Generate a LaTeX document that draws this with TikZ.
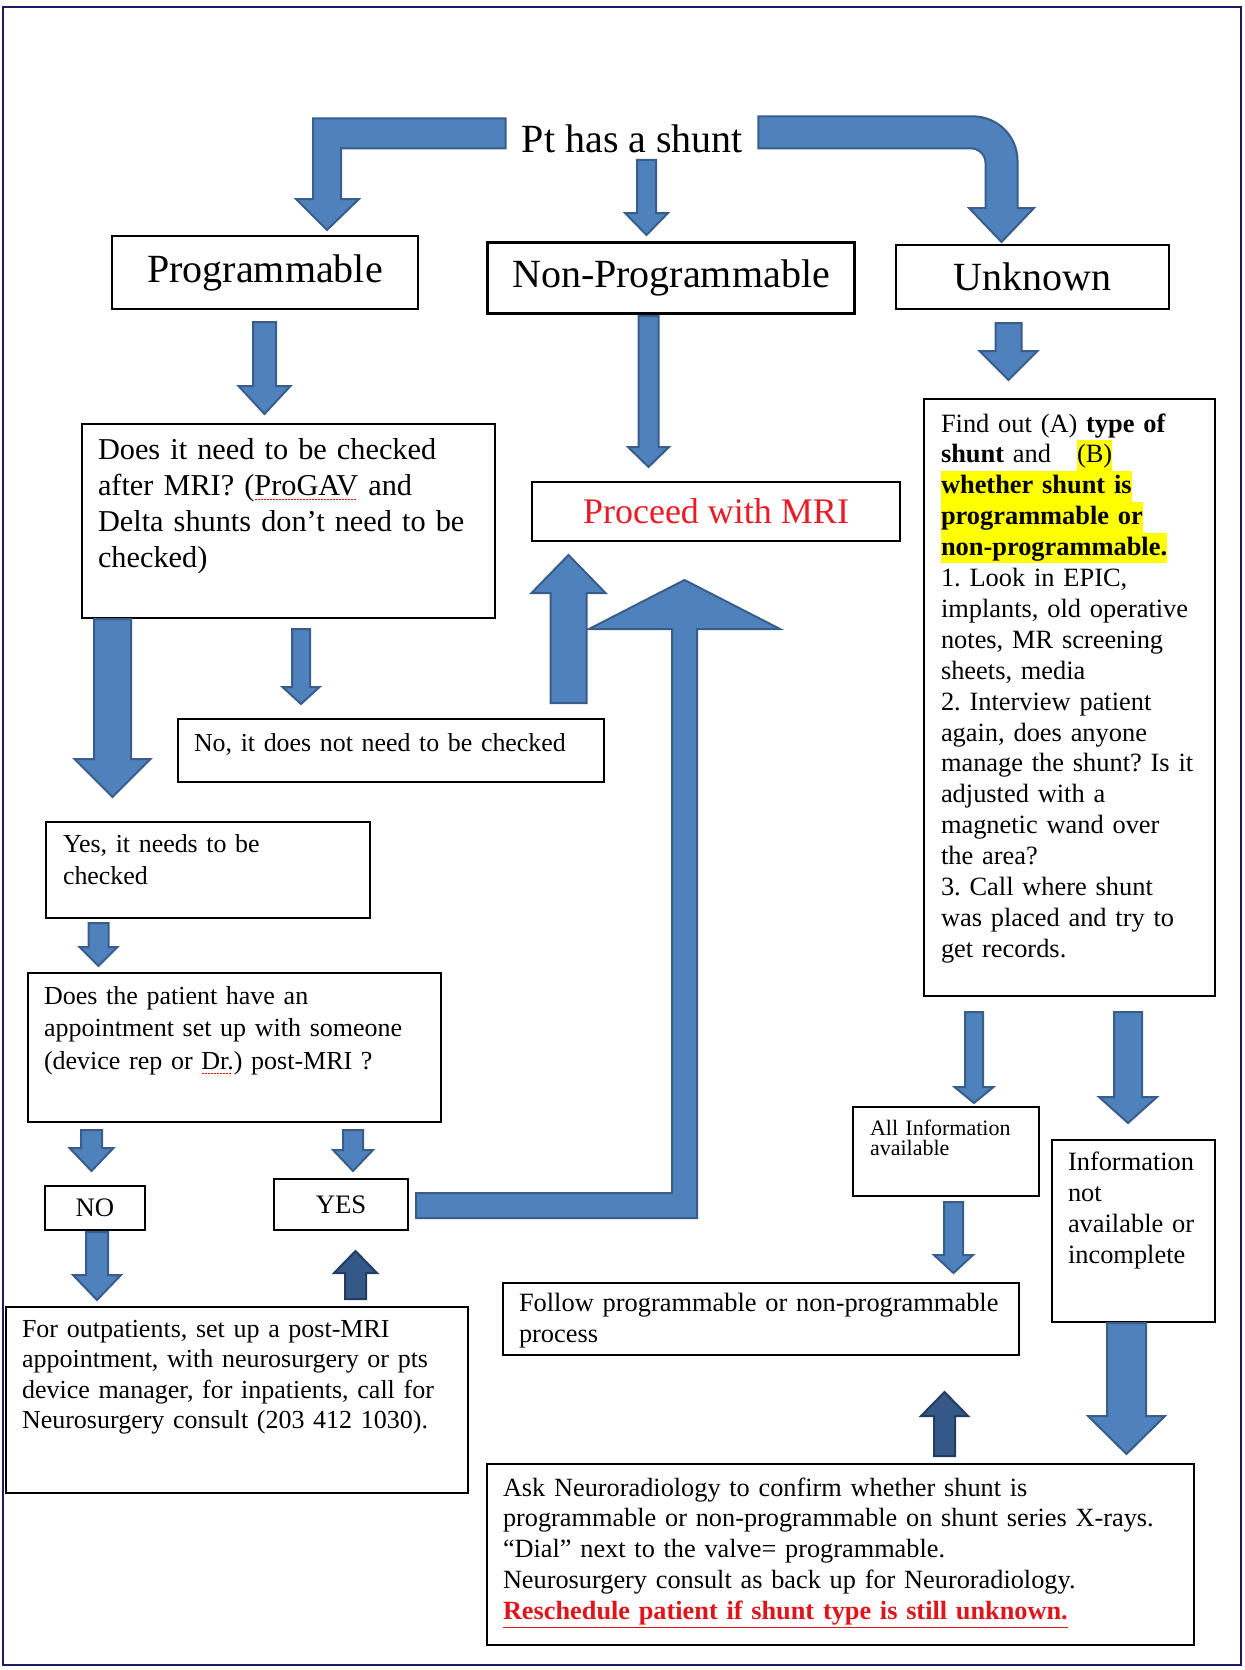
\documentclass[tikz,border=0pt]{standalone}
\usepackage{fontspec}
\setmainfont{Liberation Serif}
\usetikzlibrary{calc}
\frenchspacing

\definecolor{framenavy}{RGB}{28,28,100}
\definecolor{arrfill}{RGB}{79,129,189}
\definecolor{arredge}{RGB}{56,93,138}
\definecolor{arrdarkfill}{RGB}{52,89,136}
\definecolor{arrdarkedge}{RGB}{35,60,95}
\definecolor{mrired}{RGB}{232,28,36}
\definecolor{warnred}{RGB}{225,20,25}
\definecolor{hlyellow}{RGB}{255,255,0}

\newsavebox{\spellbox}
\newcommand{\hlite}[1]{{\fboxsep=0pt\colorbox{hlyellow}{\rule[-3.9pt]{0pt}{15.3pt}#1}}}
\newcommand{\spell}[1]{\sbox{\spellbox}{#1}\rlap{\textcolor{red}{\raisebox{-2.6pt}{\makebox[\wd\spellbox]{\leaders\hbox to 1.5pt{\hss\rule{0.8pt}{0.7pt}\hss}\hfill}}}}#1}
\newcommand{\blockarrow}[8][arr]{%
  \coordinate (bas) at ($(#5)+(#6)$);
  \coordinate (bat) at ($(#7)+(#8)$);
  \path[#1] ($(bas)+(-#2/2,0)$) -- ($(bas |- bat)+({-#2/2},{-1*(#4)})$)
    -- ($(bas |- bat)+({-#3/2},{-1*(#4)})$) -- (bas |- bat)
    -- ($(bas |- bat)+({#3/2},{-1*(#4)})$) -- ($(bas |- bat)+({#2/2},{-1*(#4)})$)
    -- ($(bas)+(#2/2,0)$) -- cycle;}

\begin{document}
\begin{tikzpicture}[x=0.5pt, y=-0.5pt,
  frame/.style={draw=framenavy, line width=1.25pt},
  headbox/.style={draw, line width=1pt, anchor=north west, inner sep=0pt,
    font=\fontsize{20}{24}\selectfont},
  box/.style={draw, line width=1pt, anchor=north west, align=left, inner ysep=0pt,
    inner xsep=8pt, font=\fontsize{13.2}{15.45}\selectfont},
  smallbox/.style={draw, line width=1pt, anchor=north west, inner sep=0pt,
    font=\fontsize{13.35}{15.45}\selectfont},
  arr/.style={fill=arrfill, draw=arredge, line width=1pt, line join=miter},
  arrdark/.style={fill=arrdarkfill, draw=arrdarkedge, line width=1pt, line join=miter}
]
\useasboundingbox (0,0) rectangle (1245,1670);
\draw[frame] (3,7) rectangle (1241,1665);

\node[anchor=base, inner sep=0pt, font=\fontsize{20}{24}\selectfont] (title) at (632.5,152) {Pt has a shunt};

\node[headbox, minimum width=153pt, minimum height=36.5pt] (prog) at (111,235) {Programmable};
\node[headbox, minimum width=183.5pt, minimum height=35.5pt, line width=1.5pt] (nonprog) at (486,241) {Non-Programmable};
\node[headbox, minimum width=136.5pt, minimum height=32pt] (unknown) at (895,244) {Unknown};
\node[headbox, minimum width=184pt, minimum height=29.5pt, text=mrired,
  font=\fontsize{18}{22}\selectfont] (mri) at (531,481) {Proceed with MRI};

\node[box, text width=190.5pt, text height=17.5pt, text depth=79.5pt,
  font=\fontsize{15.15}{18}\selectfont] (check) at (81,423)
  {Does it need to be checked\\ after MRI? (\spell{ProGAV} and\\ Delta shunts don't need to be\\ checked)};

\node[box, inner xsep=8.5pt, text width=128.5pt, text height=16.5pt, text depth=282pt] (findout) at (923,398)
  {Find out (A) \textbf{type of}\\
   \textbf{shunt} and\hspace{13pt}\hlite{(B)}\\
   \hlite{\textbf{whether shunt is}}\\
   \hlite{\textbf{programmable or}}\\
   \hlite{\textbf{non-programmable.}}\\
   1. Look in EPIC,\\ implants, old operative\\ notes, MR screening\\ sheets, media\\
   2. Interview patient\\ again, does anyone\\ \mbox{manage the shunt? Is it}\\ adjusted with a\\
   magnetic wand over\\ the area?\\
   3. Call where shunt\\ was placed and try to\\ get records.};

\node[box, text width=197pt, text height=16pt, text depth=15.5pt,
  font=\fontsize{12.95}{15.45}\selectfont] (nocheck) at (177,718)
  {No, it does not need to be checked};

\node[box, inner xsep=8.5pt, text width=145pt, text height=15pt, text depth=33pt,
  font=\fontsize{12.95}{16}\selectfont] (yescheck) at (45,821)
  {Yes, it needs to be\\ checked};

\node[box, text width=190.5pt, text height=15.5pt, text depth=59pt,
  font=\fontsize{13}{16.25}\selectfont] (appt) at (27,972)
  {Does the patient have an\\ appointment set up with someone\\ (device rep or \spell{Dr.}) post-MRI ?};

\node[smallbox, minimum width=50pt, minimum height=22pt] (nobox) at (44,1185) {NO};
\node[smallbox, minimum width=67pt, minimum height=25.5pt] (yesbox) at (273,1178) {YES};

\node[box, text width=215pt, text height=15pt, text depth=78pt,
  font=\fontsize{13}{15.25}\selectfont] (outpt) at (5,1306)
  {For outpatients, set up a post-MRI\\ appointment, with neurosurgery or pts\\
   device manager, for inpatients, call for\\ Neurosurgery consult (203 412 1030).};

\node[box, inner xsep=8.5pt, text width=76pt, text height=14pt, text depth=30.5pt,
  font=\fontsize{11}{10}\selectfont] (allinfo) at (852,1106)
  {All Information\\ available};

\node[box, text width=65.5pt, text height=15pt, text depth=76pt,
  font=\fontsize{13.2}{15.5}\selectfont] (notavail) at (1051,1139)
  {Information\\ not\\ \mbox{available or}\\ incomplete};

\node[box, text width=242pt, text height=14pt, text depth=22pt,
  font=\fontsize{13.2}{15.5}\selectfont] (follow) at (502,1282)
  {\mbox{Follow programmable or non-programmable}\\ process};

\node[box, text width=337.5pt, text height=16pt, text depth=74.5pt,
  font=\fontsize{13.15}{15.4}\selectfont] (ask) at (486,1463)
  {Ask Neuroradiology to confirm whether shunt is\\
   programmable or non-programmable on shunt series X-rays.\\
   “Dial” next to the valve= programmable.\\
   Neurosurgery consult as back up for Neuroradiology.\\
   \textcolor{warnred}{\underline{\textbf{Reschedule patient if shunt type is still unknown.}}}};

\path[arr] ($(title.west)+(-16,-20)$) coordinate (a1) -| ($(prog.north)+(48,-36)$)
  -- ++(-17,0) -- ($(prog.north)+(62,-5)$) -- ++(32,-31) -- ++(-18,0)
  |- ($(a1)+(0,30)$) -- cycle;
\path[arr] ($(title.east)+(15,-22)$) coordinate (a3)
  -- ($(a3 -| unknown.north)+(-60,0)$) .. controls +(25,0) and +(0,-25) .. ($(unknown.north)+(-15,-83)$)
  -- ($(unknown.north)+(-15,-36)$) -- ++(16.5,0) -- ($(unknown.north)+(-31,-2)$)
  -- ++(-32.5,-34) -- ++(16.5,0) -- ++(0,-45)
  .. controls +(0,-8.3) and +(8.3,0) .. ($(a3 -| unknown.north)+(-62,32)$)
  -- ($(a3)+(0,32)$) -- cycle;
\path[arr] ($(yesbox.east)+(7,13.5)$) coordinate (a6) -- ($(a6 -| mri.south)+(-19,0)$)
  -- ($(mri.south)+(-19,87)$) -- ++(83,0) -- ($(mri.south)+(-31.5,38)$)
  -- ++(-95.5,49) -- ++(83,0) |- ($(a6)+(0,-25)$) -- cycle;

\blockarrow{19}{43}{22}{title.south}{14,7}{nonprog.north}{-23,-6}
\blockarrow{20}{41}{20}{nonprog.south}{-22.5,1}{mri.north}{-68,-14}
\blockarrow{23}{52}{28}{prog.south}{-0.5,12}{check.north}{-24,-9}
\blockarrow{26}{58}{29}{unknown.south}{-24,13}{findout.north}{-61,-18}
\blockarrow{37}{76}{38}{check.south west}{31.5,0}{yescheck.north}{-94.5,-24}
\blockarrow{18}{37}{17}{check.south}{12.5,10}{nocheck.north}{-90,-14}
\blockarrow{36}{74}{-38}{nocheck.north}{177.5,-15}{mri.south}{-147.5,13}
\blockarrow{20}{38}{19}{yescheck.south}{-109.5,4}{appt.north}{-136,-6}
\blockarrow{21}{44}{23}{appt.south west}{64.5,7}{nobox.north}{-2.5,-14}
\blockarrow{20}{40}{21}{appt.south west}{326,7}{yesbox.north}{13,-7}
\blockarrow{22}{48}{25}{nobox.south}{2,1}{outpt.north}{-140,-6}
\blockarrow[arrdark]{21}{43}{-22}{outpt.north}{118.5,-7}{yesbox.south}{14.5,20}
\blockarrow{18}{39}{16}{findout.south}{-95.5,15}{allinfo.north}{28,-3}
\blockarrow{28}{58}{26}{findout.south}{58.5,15}{notavail.north}{-5.5,-16}
\blockarrow{19}{39}{18}{allinfo.south}{7.5,5}{follow.north}{192.5,-9}
\blockarrow{39}{77}{38}{notavail.south}{-7,0}{ask.north}{286,-9}
\blockarrow[arrdark]{21}{47}{-24}{ask.north}{104,-7}{follow.south}{183.5,36}
\end{tikzpicture}
\end{document}
